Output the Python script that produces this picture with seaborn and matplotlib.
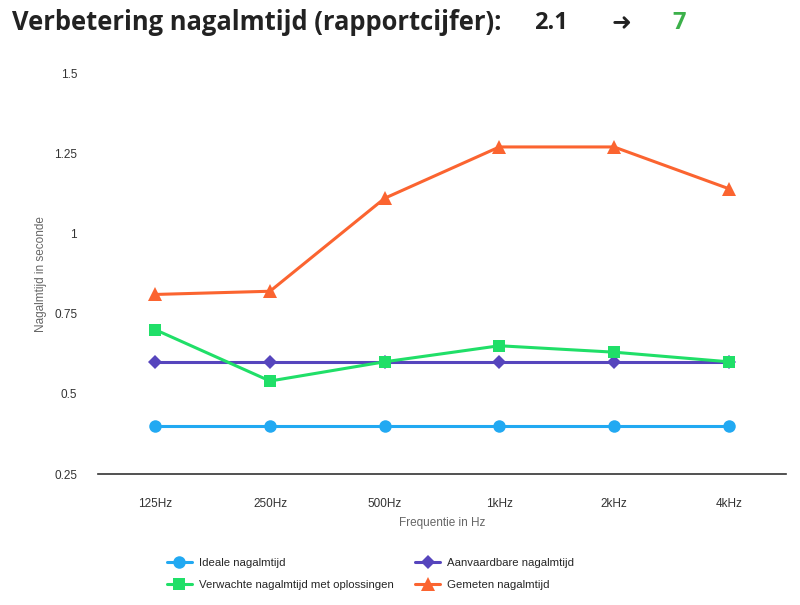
import matplotlib
matplotlib.use("Agg")
import matplotlib.pyplot as plt
import seaborn as sns
import pandas as pd

freqs = ["125Hz", "250Hz", "500Hz", "1kHz", "2kHz", "4kHz"]
ideale = [0.4, 0.4, 0.4, 0.4, 0.4, 0.4]
aanvaardbare = [0.6, 0.6, 0.6, 0.6, 0.6, 0.6]
verwachte = [0.70, 0.54, 0.60, 0.65, 0.63, 0.60]
gemeten = [0.81, 0.82, 1.11, 1.27, 1.27, 1.14]
y_ticks = [0.25, 0.5, 0.75, 1.0, 1.25, 1.5]
y_tick_labels = ["0.25", "0.5", "0.75", "1", "1.25", "1.5"]

sns.set_theme(style="white")
plt.rcParams['font.family'] = ['Liberation Sans', 'DejaVu Sans']

fig = plt.figure(figsize=(8, 6.05), dpi=100)
ax = fig.add_axes([0.1225, 0.2165, 0.86, 0.6625])

series = [
    ("Ideale nagalmtijd", ideale, "#22a9f2", "o", 9),
    ("Aanvaardbare nagalmtijd", aanvaardbare, "#5645bd", "D", 7),
    ("Verwachte nagalmtijd met oplossingen", verwachte, "#20df68", "s", 9),
    ("Gemeten nagalmtijd", gemeten, "#fb6430", "^", 10),
]
x = list(range(len(freqs)))
for name, vals, col, mk, ms in series:
    df = pd.DataFrame({"x": x, "y": vals})
    sns.lineplot(data=df, x="x", y="y", ax=ax, color=col, marker=mk,
                 markersize=ms, markeredgewidth=0, linewidth=2.2, label=name)

ax.set_xlim(-0.5, 5.5)
ax.set_ylim(0.25, 1.5)
ax.set_xticks(x)
ax.set_xticklabels(freqs)
ax.set_yticks(y_ticks)
ax.set_yticklabels(y_tick_labels)
ax.tick_params(axis="both", length=0, labelsize=8.5, labelcolor="#333333")
ax.tick_params(axis="x", pad=17)
ax.tick_params(axis="y", pad=15)
for s in ["top", "right", "left"]:
    ax.spines[s].set_visible(False)
ax.spines["bottom"].set_color("#333333")
ax.spines["bottom"].set_linewidth(1.2)
ax.set_xlabel("Frequentie in Hz", fontsize=8.5, color="#666666", labelpad=5)
ax.set_ylabel("Nagalmtijd in seconde", fontsize=8.5, color="#666666", labelpad=5)

h, l = ax.get_legend_handles_labels()
order = [0, 2, 1, 3]
ax.legend([h[i] for i in order], [l[i] for i in order], ncol=2, frameon=False,
          loc="upper left", bbox_to_anchor=(0.085, -0.183), fontsize=8.2,
          columnspacing=1.9, handlelength=2.2, handletextpad=0.6,
          labelspacing=1.05)

fig.text(0.015, 0.962, "Verbetering nagalmtijd (rapportcijfer):", fontsize=18.4,
         fontweight="bold", color="#222222", family=["Open Sans", "DejaVu Sans"], va="center")
fig.text(0.667, 0.962, "2.1", fontsize=17, fontweight="bold", color="#222222",
         family=["Open Sans", "DejaVu Sans"], va="center")
fig.text(0.765, 0.962, "\u279C", fontsize=17, fontweight="bold", color="#222222",
         family=["DejaVu Sans"], va="center")
fig.text(0.84, 0.962, "7", fontsize=17, fontweight="bold", color="#3cb04a",
         family=["Open Sans", "DejaVu Sans"], va="center")

fig.savefig("out.png", dpi=100)
